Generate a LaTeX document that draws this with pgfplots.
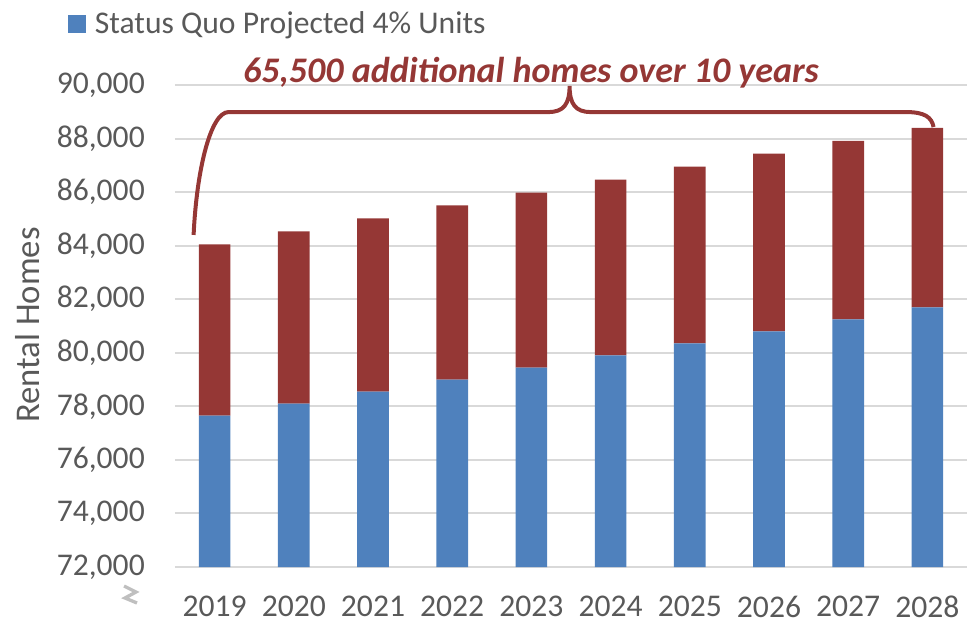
\documentclass[border=0pt]{standalone}
\usepackage{fontspec}
\setmainfont{Carlito}
\usepackage{pgfplots}
\pgfplotsset{compat=1.18}
\definecolor{qblue}{HTML}{4F81BD}
\definecolor{qred}{HTML}{953735}
\definecolor{qgray}{HTML}{595959}
\definecolor{qgrid}{HTML}{D9D9D9}
\begin{document}
\begin{tikzpicture}
\begin{axis}[
  scale only axis, width=594pt, height=361.5pt,
  ybar stacked, bar width=0.4,
  clip mode=individual,
  xmin=-0.5, xmax=9.5, ymin=72000, ymax=90000,
  xtick={0,...,9},
  xticklabels={2019,2020,2021,2022,2023,2024,2025,2026,2027,2028},
  ytick={72000,74000,...,90000},
  scaled y ticks=false,
  ymajorgrids, grid style={qgrid, line width=1.5pt},
  axis line style={draw=none},
  major tick length=0pt,
  /pgf/number format/.cd, fixed, 1000 sep={,}, assume math mode=true,
  /pgfplots/.cd,
  tick label style={font=\fontsize{23.7}{28}\selectfont, text=qgray},
  yticklabel style={inner sep=0pt, anchor=east, xshift=-22.5pt},
  xticklabel style={inner sep=0pt, anchor=north, yshift=-21.75pt, text depth=0pt},
  ylabel={Rental Homes},
  ylabel style={at={(axis description cs:-0.1856,0.502)}, anchor=center, font=\fontsize{26}{30}\selectfont, text=qgray},
  legend style={at={(axis description cs:-0.1351,1.1266)}, anchor=west, draw=none, fill=none, inner sep=0pt,
    font=\fontsize{23.7}{28}\selectfont, nodes={text=qgray},
    /tikz/every odd column/.append style={column sep=4.5pt}},
  legend image code/.code={\fill[#1] (0pt,-6.75pt) rectangle (13.5pt,6.75pt);},
]
\addplot[fill=qblue, draw=none] coordinates {
  (0,77650) (1,78100) (2,78550) (3,79000) (4,79450)
  (5,79900) (6,80350) (7,80800) (8,81250) (9,81700)};
\addlegendentry{Status Quo Projected 4\% Units}
\addplot[fill=qred, draw=none] coordinates {
  (0,6400) (1,6433) (2,6467) (3,6500) (4,6533)
  (5,6567) (6,6600) (7,6633) (8,6667) (9,6700)};
\node[rotate=90, text=white, font=\fontsize{23.7}{28}\selectfont] at (axis cs:9,75620) {81,700};
\node[anchor=base, font=\fontsize{27}{31}\selectfont\bfseries\itshape, text=qred] at (axis description cs:0.4495,1.0062) {65,500 additional homes over 10 years};
\draw[qred, line width=3pt]
  (axis cs:-0.265,84400) .. controls (axis cs:-0.227,86824) and (axis cs:-0.051,88990) .. (axis cs:0.177,88990)
  -- (axis cs:4.217,88990)
  .. controls (axis cs:4.407,88990) and (axis cs:4.482,89288) .. (axis cs:4.482,89961)
  .. controls (axis cs:4.482,89288) and (axis cs:4.558,88990) .. (axis cs:4.747,88990)
  -- (axis cs:8.725,88990)
  .. controls (axis cs:8.965,88990) and (axis cs:9.053,88803) .. (axis cs:9.078,88430);
\end{axis}
\draw[color=black!25, line width=2.5pt, line join=miter] (-38.25pt,-14.25pt) -- (-29.25pt,-18.75pt) -- (-37.5pt,-23.25pt) -- (-28.5pt,-27pt);
\pgfresetboundingbox
\useasboundingbox (-131.25pt,-40.5pt) rectangle (595.5pt,425.25pt);
\end{tikzpicture}
\end{document}
